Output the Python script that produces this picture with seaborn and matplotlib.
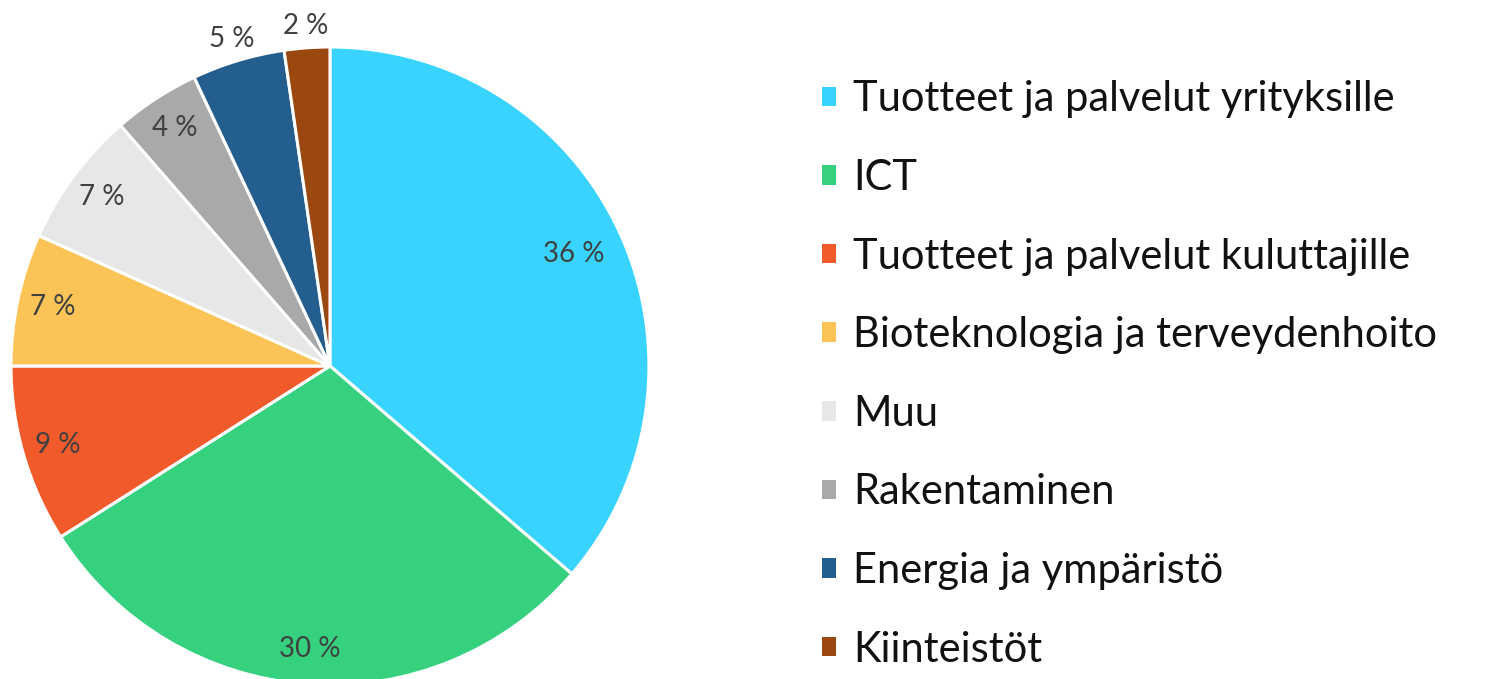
import numpy as np
import matplotlib
matplotlib.use('Agg')
import matplotlib.pyplot as plt
import seaborn as sns
from matplotlib.patches import Patch

# Data
categories = ['Tuotteet ja palvelut yrityksille', 'ICT', 'Tuotteet ja palvelut kuluttajille',
              'Bioteknologia ja terveydenhoito', 'Muu', 'Rakentaminen',
              'Energia ja ympäristö', 'Kiinteistöt']
shares = [36.3, 29.7, 9.0, 6.7, 6.9, 4.4, 4.7, 2.3]
shown_labels = ['36 %', '30 %', '9 %', '7 %', '7 %', '4 %', '5 %', '2 %']
colors = ['#38D3FE', '#35D17F', '#F15A2B', '#FCC457', '#E7E7E7', '#A9A9A9', '#245E8E', '#9A480F']

sns.set_theme(style='white')
plt.rcParams['font.family'] = ['Lato', 'DejaVu Sans']

fig = plt.figure(figsize=(14.86, 6.79), dpi=100)
ax = fig.add_axes([0.0074, -0.0088, 0.4293, 0.9396])

wedges, _ = ax.pie(shares, colors=sns.color_palette(colors), startangle=90, counterclock=False,
                   wedgeprops=dict(edgecolor='white', linewidth=2.2))
ax.set_xlim(-1, 1)
ax.set_ylim(-1, 1)
ax.set_aspect('auto')

# percentage labels at wedge middles, the two smallest outside
for w, lab in zip(wedges, shown_labels):
    ang = np.deg2rad((w.theta1 + w.theta2) / 2)
    if lab in ('5 %', '2 %'):
        r = 1.07
    elif lab == '36 %':
        r = 0.84
    else:
        r = 0.89
    ax.text(r * np.cos(ang), r * np.sin(ang), lab, ha='center', va='center',
            fontsize=20, color='#404040')

handles = [Patch(facecolor=c, edgecolor='none') for c in colors]
fig.legend(handles, categories, loc='upper left', bbox_to_anchor=(0.528, 0.937),
           frameon=False, fontsize=30, handlelength=0.34, handleheight=0.34,
           handletextpad=0.4, labelspacing=0.975, labelcolor='#111111')

fig.savefig('out.png', dpi=100)
